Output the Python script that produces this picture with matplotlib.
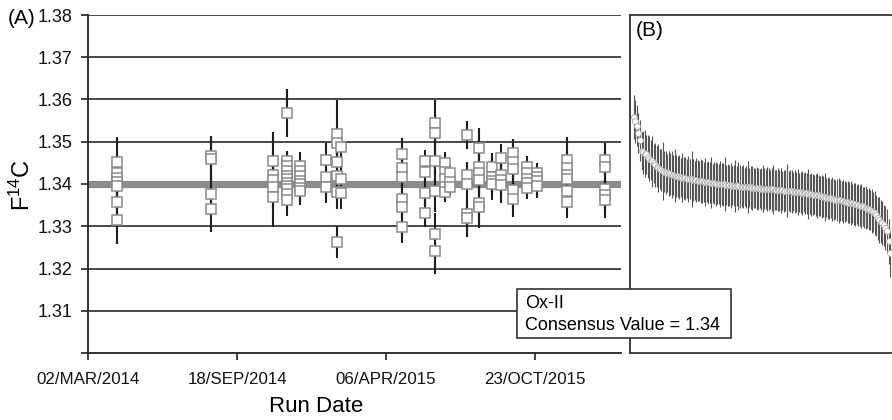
import matplotlib
matplotlib.use("Agg")
import matplotlib.pyplot as plt
import matplotlib.dates as mdates
from matplotlib.patches import Rectangle
import numpy as np
import pandas as pd

plt.rcParams['font.family'] = ['Liberation Sans', 'DejaVu Sans']
plt.rcParams['mathtext.fontset'] = 'custom'
plt.rcParams['mathtext.rm'] = 'Liberation Sans'
plt.rcParams['mathtext.it'] = 'Liberation Sans'

# ---------------- Panel A data (run date, F14C, 1-sigma) ----------------
run_dates = (["2014-04-10"] * 7 + ["2014-08-14"] * 4 + ["2014-11-05"] * 5 +
             ["2014-11-24"] * 11 + ["2014-12-11"] * 7 + ["2015-01-15"] * 3 +
             ["2015-01-30"] * 6 + ["2015-02-05"] * 3 + ["2015-04-27"] * 6 +
             ["2015-05-28"] * 4 + ["2015-06-11"] * 6 + ["2015-06-24"] * 5 +
             ["2015-07-01"] * 3 + ["2015-07-23"] * 5 + ["2015-08-08"] * 6 +
             ["2015-08-26"] * 4 + ["2015-09-07"] * 4 + ["2015-09-23"] * 5 +
             ["2015-10-12"] * 5 + ["2015-10-25"] * 4 + ["2015-12-05"] * 6 +
             ["2016-01-24"] * 5)
f14c_a = [1.3451, 1.3425, 1.3415, 1.3405, 1.3395, 1.3357, 1.3315,
          1.3467, 1.3459, 1.3377, 1.3342,
          1.3455, 1.3421, 1.3409, 1.3392, 1.3370,
          1.3569, 1.3455, 1.3443, 1.3431, 1.3420, 1.3411, 1.3403, 1.3396, 1.3388, 1.3377, 1.3362,
          1.3442, 1.3430, 1.3418, 1.3408, 1.3400, 1.3390, 1.3383,
          1.3457, 1.3416, 1.3394,
          1.3518, 1.3498, 1.3453, 1.3419, 1.3382, 1.3263,
          1.3487, 1.3411, 1.3378,
          1.3470, 1.3439, 1.3416, 1.3364, 1.3345, 1.3299,
          1.3454, 1.3429, 1.3378, 1.3332,
          1.3544, 1.3520, 1.3454, 1.3384, 1.3281, 1.3242,
          1.3449, 1.3429, 1.3411, 1.3394, 1.3382,
          1.3425, 1.3405, 1.3394,
          1.3516, 1.3421, 1.3400, 1.3328, 1.3320,
          1.3486, 1.3441, 1.3425, 1.3409, 1.3354, 1.3345,
          1.3440, 1.3417, 1.3408, 1.3399,
          1.3461, 1.3421, 1.3410, 1.3397,
          1.3473, 1.3453, 1.3435, 1.3386, 1.3364,
          1.3440, 1.3425, 1.3413, 1.3402, 1.3390,
          1.3427, 1.3416, 1.3406, 1.3395,
          1.3457, 1.3437, 1.3421, 1.3413, 1.3383, 1.3358,
          1.3457, 1.3440, 1.3387, 1.3374, 1.3362]
err_a = [0.0060, 0.0045, 0.0045, 0.0045, 0.0045, 0.0045, 0.0057,
         0.0047, 0.0050, 0.0045, 0.0056,
         0.0067, 0.0050, 0.0050, 0.0050, 0.0071,
         0.0057, 0.0023, 0.0030, 0.0030, 0.0030, 0.0030, 0.0030, 0.0030, 0.0030, 0.0030, 0.0037,
         0.0034, 0.0030, 0.0030, 0.0030, 0.0030, 0.0030, 0.0033,
         0.0039, 0.0035, 0.0038,
         0.0081, 0.0040, 0.0040, 0.0040, 0.0040, 0.0038,
         0.0040, 0.0040, 0.0036,
         0.0040, 0.0040, 0.0040, 0.0040, 0.0040, 0.0038,
         0.0027, 0.0030, 0.0030, 0.0033,
         0.0055, 0.0050, 0.0050, 0.0050, 0.0050, 0.0055,
         0.0027, 0.0025, 0.0025, 0.0025, 0.0024,
         0.0020, 0.0020, 0.0020,
         0.0033, 0.0032, 0.0030, 0.0045, 0.0045,
         0.0046, 0.0045, 0.0045, 0.0045, 0.0050, 0.0050,
         0.0034, 0.0035, 0.0035, 0.0037,
         0.0033, 0.0040, 0.0040, 0.0043,
         0.0033, 0.0040, 0.0040, 0.0040, 0.0041,
         0.0027, 0.0026, 0.0026, 0.0026, 0.0026,
         0.0023, 0.0025, 0.0025, 0.0029,
         0.0055, 0.0040, 0.0040, 0.0040, 0.0040, 0.0038,
         0.0041, 0.0040, 0.0040, 0.0040, 0.0042]
consensus = 1.34

x_ticks = ["2014-03-02", "2014-09-18", "2015-04-06", "2015-10-23"]
x_tick_labels = ["02/MAR/2014", "18/SEP/2014", "06/APR/2015", "23/OCT/2015"]
x_range = ["2014-03-02", "2016-02-15"]
y_ticks = [1.31, 1.32, 1.33, 1.34, 1.35, 1.36, 1.37, 1.38]

# ---------------- Panel B data (sorted F14C, 1-sigma) ----------------
f14c_b = [1.3559, 1.3548, 1.3538, 1.3520, 1.3503, 1.3478, 1.3475, 1.3472, 1.3470, 1.3465,
          1.3460, 1.3457, 1.3454, 1.3449, 1.3445, 1.3441, 1.3438, 1.3436, 1.3433, 1.3431,
          1.3429, 1.3428, 1.3426, 1.3425, 1.3424, 1.3422, 1.3421, 1.3420, 1.3419, 1.3418,
          1.3417, 1.3416, 1.3415, 1.3414, 1.3414, 1.3413, 1.3412, 1.3412, 1.3411, 1.3410,
          1.3409, 1.3409, 1.3408, 1.3407, 1.3407, 1.3406, 1.3405, 1.3405, 1.3404, 1.3404,
          1.3403, 1.3403, 1.3402, 1.3402, 1.3401, 1.3401, 1.3400, 1.3400, 1.3400, 1.3399,
          1.3399, 1.3398, 1.3398, 1.3397, 1.3397, 1.3396, 1.3396, 1.3395, 1.3395, 1.3395,
          1.3394, 1.3394, 1.3394, 1.3393, 1.3393, 1.3393, 1.3392, 1.3392, 1.3391, 1.3391,
          1.3391, 1.3390, 1.3390, 1.3390, 1.3389, 1.3389, 1.3389, 1.3388, 1.3388, 1.3388,
          1.3387, 1.3387, 1.3387, 1.3386, 1.3386, 1.3386, 1.3385, 1.3385, 1.3385, 1.3384,
          1.3384, 1.3384, 1.3383, 1.3383, 1.3383, 1.3382, 1.3382, 1.3381, 1.3381, 1.3380,
          1.3380, 1.3379, 1.3379, 1.3378, 1.3378, 1.3377, 1.3377, 1.3376, 1.3375, 1.3375,
          1.3374, 1.3373, 1.3373, 1.3372, 1.3371, 1.3370, 1.3369, 1.3368, 1.3367, 1.3366,
          1.3366, 1.3365, 1.3364, 1.3363, 1.3362, 1.3361, 1.3361, 1.3360, 1.3359, 1.3358,
          1.3358, 1.3357, 1.3356, 1.3355, 1.3354, 1.3353, 1.3352, 1.3351, 1.3350, 1.3349,
          1.3348, 1.3347, 1.3345, 1.3344, 1.3342, 1.3340, 1.3338, 1.3336, 1.3334, 1.3332,
          1.3326, 1.3319, 1.3315, 1.3311, 1.3308, 1.3302, 1.3296, 1.3289, 1.3264, 1.3236]
err_b = [0.0052, 0.0050, 0.0048, 0.0047, 0.0049, 0.0046, 0.0051, 0.0055, 0.0047, 0.0050,
         0.0053, 0.0048, 0.0060, 0.0046, 0.0052, 0.0049, 0.0057, 0.0047, 0.0050, 0.0069,
         0.0048, 0.0051, 0.0046, 0.0053, 0.0049, 0.0055, 0.0047, 0.0062, 0.0050, 0.0048,
         0.0052, 0.0046, 0.0058, 0.0049, 0.0051, 0.0047, 0.0054, 0.0048, 0.0066, 0.0050,
         0.0046, 0.0052, 0.0049, 0.0047, 0.0053, 0.0050, 0.0048, 0.0056, 0.0047, 0.0051,
         0.0049, 0.0060, 0.0046, 0.0050, 0.0052, 0.0048, 0.0047, 0.0054, 0.0049, 0.0051,
         0.0064, 0.0047, 0.0050, 0.0048, 0.0053, 0.0046, 0.0049, 0.0061, 0.0047, 0.0057,
         0.0050, 0.0048, 0.0051, 0.0046, 0.0049, 0.0062, 0.0047, 0.0050, 0.0052, 0.0048,
         0.0047, 0.0051, 0.0049, 0.0046, 0.0050, 0.0055, 0.0048, 0.0047, 0.0052, 0.0049,
         0.0046, 0.0050, 0.0058, 0.0048, 0.0047, 0.0051, 0.0049, 0.0053, 0.0046, 0.0050,
         0.0048, 0.0063, 0.0047, 0.0049, 0.0051, 0.0046, 0.0050, 0.0048, 0.0054, 0.0047,
         0.0049, 0.0052, 0.0046, 0.0050, 0.0048, 0.0059, 0.0047, 0.0051, 0.0049, 0.0046,
         0.0050, 0.0053, 0.0048, 0.0047, 0.0051, 0.0049, 0.0056, 0.0046, 0.0050, 0.0048,
         0.0047, 0.0052, 0.0049, 0.0046, 0.0050, 0.0054, 0.0048, 0.0047, 0.0051, 0.0049,
         0.0046, 0.0050, 0.0048, 0.0053, 0.0047, 0.0049, 0.0051, 0.0046, 0.0050, 0.0048,
         0.0052, 0.0047, 0.0049, 0.0051, 0.0046, 0.0050, 0.0048, 0.0053, 0.0047, 0.0052,
         0.0049, 0.0051, 0.0054, 0.0050, 0.0052, 0.0049, 0.0053, 0.0051, 0.0054, 0.0056]

# ---------------- figure ----------------
W, H = 892, 420
fig = plt.figure(figsize=(W / 100, H / 100), dpi=100)
axA = fig.add_axes([88 / W, 1 - 353 / H, (621 - 88) / W, (353 - 15) / H])
axB = fig.add_axes([630 / W, 1 - 353 / H, (W - 630) / W, (353 - 15) / H])

grid_c = '#3a3a3a'
xd = mdates.date2num(pd.to_datetime(run_dates))

# Panel A
axA.set_ylim(1.30, 1.38)
axA.set_xlim(mdates.date2num(pd.to_datetime(x_range)))
for yv in y_ticks:
    axA.axhline(yv, color=grid_c, lw=1.3, zorder=1)
axA.axhline(consensus, color='#8c8c8c', lw=5.2, zorder=2)
axA.errorbar(xd, f14c_a, yerr=err_a, fmt='none', ecolor='#1e1e1e',
             elinewidth=1.5, capsize=0, zorder=3)
axA.plot(xd, f14c_a, ls='none', marker='s', ms=6.6, mfc='white',
         mec='#8a8a8a', mew=1.1, zorder=4)

axA.set_yticks(y_ticks + [1.30])
axA.set_yticklabels([f"{v:.2f}" for v in y_ticks] + [""])
axA.set_xticks(mdates.date2num(pd.to_datetime(x_ticks)))
axA.set_xticklabels(x_tick_labels)
axA.tick_params(axis='y', direction='out', length=5, width=1.2, colors='#222222',
                labelsize=13, pad=6, labelcolor='#111111')
axA.tick_params(axis='x', direction='out', length=5, width=1.2, colors='#222222',
                labelsize=12.2, pad=9, labelcolor='#111111')
for s in ['top', 'right']:
    axA.spines[s].set_visible(False)
for s in ['left', 'bottom']:
    axA.spines[s].set_color('#222222')
    axA.spines[s].set_linewidth(1.3)

# Panel B
xb = np.arange(len(f14c_b))
axB.set_ylim(1.30, 1.38)
axB.set_xlim(-2.6, len(f14c_b) + 0.3)
axB.errorbar(xb, f14c_b, yerr=err_b, fmt='none', ecolor='#555555',
             elinewidth=0.8, capsize=0, zorder=2)
axB.plot(xb, f14c_b, ls='none', marker='o', ms=4.2, mfc='white',
         mec='#aaaaaa', mew=0.6, zorder=3)
axB.set_xticks([])
axB.set_yticks([])
axB.spines['right'].set_visible(False)
for s in ['top', 'left', 'bottom']:
    axB.spines[s].set_color('#333333')
    axB.spines[s].set_linewidth(1.3)

# Texts
fig.text(22 / W, 1 - 18 / H, "(A)", fontsize=15, ha='center', va='center')
fig.text(650 / W, 1 - 31 / H, "(B)", fontsize=15, ha='center', va='center')
fig.text(22 / W, 1 - 185 / H, r"F$^{\mathrm{14}}$C", fontsize=17, rotation=90,
         ha='center', va='center')
fig.text(316 / W, 1 - 406 / H, "Run Date", fontsize=16, ha='center', va='center')

# Annotation box
box = Rectangle((517 / W, 1 - 338 / H), (731 - 517) / W, (338 - 289) / H,
                transform=fig.transFigure, facecolor='white', edgecolor='#333333',
                lw=1.2, zorder=10)
fig.add_artist(box)
fig.text(525 / W, 1 - 304 / H, "Ox-II", fontsize=13, ha='left', va='center', zorder=11)
fig.text(525 / W, 1 - 326 / H, "Consensus Value = 1.34", fontsize=13, ha='left',
         va='center', zorder=11)

fig.savefig("out.png", dpi=100)
